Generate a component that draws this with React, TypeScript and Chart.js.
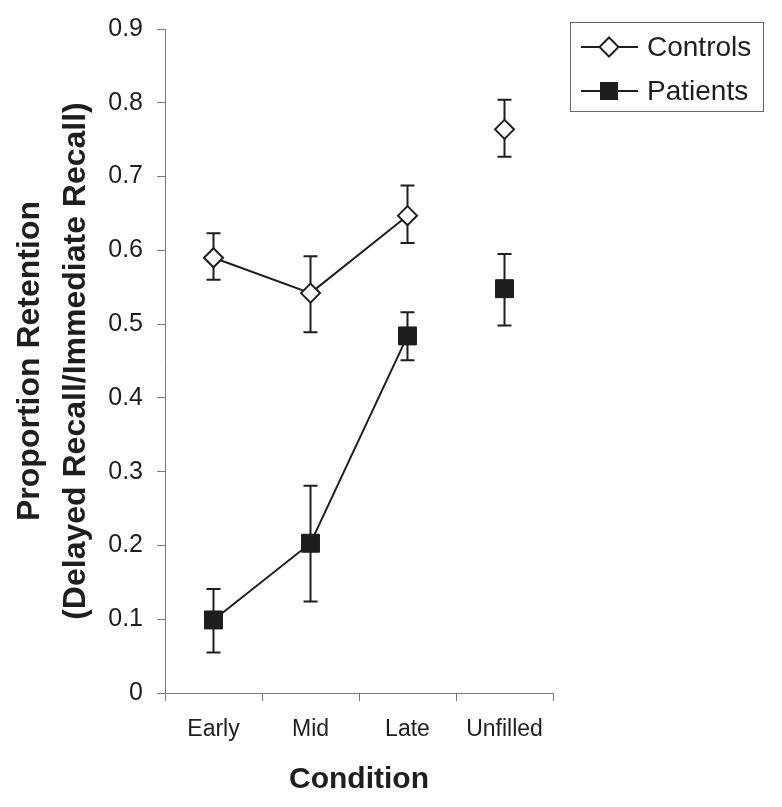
import React, { useEffect, useRef } from "react";
import { Chart, registerables } from "chart.js";

Chart.register(...registerables);

const categories = ["Early", "Mid", "Late", "Unfilled"];
const seriesNames = ["Controls", "Patients"];

const controlsMean = [0.59, 0.542, 0.647, 0.764];
const controlsErrLow = [0.56, 0.489, 0.61, 0.727];
const controlsErrHigh = [0.623, 0.592, 0.688, 0.804];

const patientsMean = [0.099, 0.203, 0.484, 0.548];
const patientsErrLow = [0.055, 0.124, 0.451, 0.498];
const patientsErrHigh = [0.141, 0.281, 0.516, 0.595];

const yTickLabels = ["0", "0.1", "0.2", "0.3", "0.4", "0.5", "0.6", "0.7", "0.8", "0.9"];
const yTitle = ["Proportion Retention", "(Delayed Recall/Immediate Recall)"];
const xTitle = "Condition";

const INK = "#1e1e1e";
const AXIS = "#7a7a7a";
const FONT = "'Liberation Sans', Arial, sans-serif";

const errorBarPlugin = {
  id: "errorBars",
  beforeDatasetsDraw(chart: any) {
    const { ctx } = chart;
    const yScale = chart.scales.y;
    chart.data.datasets.forEach((ds: any, i: number) => {
      const meta = chart.getDatasetMeta(i);
      meta.data.forEach((pt: any, j: number) => {
        const x = pt.x;
        const yl = yScale.getPixelForValue(ds.errLow[j]);
        const yh = yScale.getPixelForValue(ds.errHigh[j]);
        ctx.save();
        ctx.strokeStyle = INK;
        ctx.lineWidth = 2;
        ctx.beginPath();
        ctx.moveTo(x, yl);
        ctx.lineTo(x, yh);
        ctx.moveTo(x - 7, yl);
        ctx.lineTo(x + 7, yl);
        ctx.moveTo(x - 7, yh);
        ctx.lineTo(x + 7, yh);
        ctx.stroke();
        ctx.restore();
      });
    });
  },
};

const legendPlugin = {
  id: "customLegend",
  afterDraw(chart: any) {
    const { ctx } = chart;
    ctx.save();
    ctx.strokeStyle = "#666";
    ctx.lineWidth = 1;
    ctx.strokeRect(570.5, 22.5, 193, 89);
    const rows = [47, 91];
    rows.forEach((ry, i) => {
      ctx.strokeStyle = INK;
      ctx.lineWidth = 2;
      ctx.beginPath();
      ctx.moveTo(581, ry);
      ctx.lineTo(638, ry);
      ctx.stroke();
      const cx = 609;
      if (i === 0) {
        const r = 9.5;
        ctx.beginPath();
        ctx.moveTo(cx, ry - r);
        ctx.lineTo(cx + r, ry);
        ctx.lineTo(cx, ry + r);
        ctx.lineTo(cx - r, ry);
        ctx.closePath();
        ctx.fillStyle = "#fff";
        ctx.fill();
        ctx.stroke();
      } else {
        ctx.fillStyle = INK;
        ctx.fillRect(cx - 9, ry - 9, 18, 18);
      }
      ctx.fillStyle = INK;
      ctx.font = `28px ${FONT}`;
      ctx.textAlign = "left";
      ctx.textBaseline = "middle";
      ctx.fillText(seriesNames[i], 647, ry + 1);
    });
    ctx.restore();
  },
};

export default function App() {
  const canvasRef = useRef<HTMLCanvasElement | null>(null);

  useEffect(() => {
    if (!canvasRef.current) return;
    const lineSegColor = (c: any) => (c.p1DataIndex === 3 ? "rgba(0,0,0,0)" : INK);
    const chart = new Chart(canvasRef.current, {
      type: "line",
      data: {
        labels: categories,
        datasets: [
          {
            label: seriesNames[0],
            data: controlsMean,
            errLow: controlsErrLow,
            errHigh: controlsErrHigh,
            borderColor: INK,
            borderWidth: 2,
            pointStyle: "rectRot",
            pointRadius: 9.5,
            pointBackgroundColor: "#ffffff",
            pointBorderColor: INK,
            pointBorderWidth: 2,
            segment: { borderColor: lineSegColor },
          } as any,
          {
            label: seriesNames[1],
            data: patientsMean,
            errLow: patientsErrLow,
            errHigh: patientsErrHigh,
            borderColor: INK,
            borderWidth: 2,
            pointStyle: "rect",
            pointRadius: 12.7,
            pointBackgroundColor: INK,
            pointBorderColor: INK,
            pointBorderWidth: 1,
            segment: { borderColor: lineSegColor },
          } as any,
        ],
      },
      options: {
        animation: false,
        responsive: false,
        devicePixelRatio: 1,
        layout: { padding: { top: 28, right: 229, left: 0, bottom: 0 } },
        plugins: {
          legend: { display: false },
          tooltip: { enabled: false },
        },
        scales: {
          x: {
            type: "category",
            offset: true,
            grid: {
              offset: true,
              drawOnChartArea: false,
              drawTicks: true,
              tickLength: 8,
              color: AXIS,
              lineWidth: 1,
            },
            border: { display: true, color: AXIS, width: 1 },
            ticks: {
              color: INK,
              font: { family: FONT, size: 23 },
              padding: 15,
              maxRotation: 0,
            },
            title: {
              display: true,
              text: xTitle,
              color: INK,
              font: { family: FONT, size: 30, weight: "bold", lineHeight: 1 },
              padding: { top: 0, bottom: 12 },
            },
            afterFit(scale: any) {
              scale.height = 114;
            },
          },
          y: {
            min: 0,
            max: 0.9,
            grid: {
              drawOnChartArea: false,
              drawTicks: true,
              tickLength: 8,
              color: AXIS,
              lineWidth: 1,
            },
            border: { display: true, color: AXIS, width: 1 },
            ticks: {
              stepSize: 0.1,
              color: INK,
              font: { family: FONT, size: 25 },
              padding: 14,
              callback: (_v: any, i: number) => yTickLabels[i],
            },
            title: {
              display: true,
              text: yTitle,
              color: INK,
              font: { family: FONT, size: 32, weight: "bold", lineHeight: "46px" },
              padding: { top: 7, bottom: 0 },
            },
            afterFit(scale: any) {
              scale.width = 165;
            },
          },
        },
      },
      plugins: [errorBarPlugin, legendPlugin],
    } as any);
    return () => chart.destroy();
  }, []);

  return (
    <div style={{ position: "absolute", left: 0, top: 0, width: 782, height: 807, background: "#fff" }}>
      <canvas ref={canvasRef} width={782} height={807} style={{ display: "block", width: 782, height: 807 }} />
    </div>
  );
}
